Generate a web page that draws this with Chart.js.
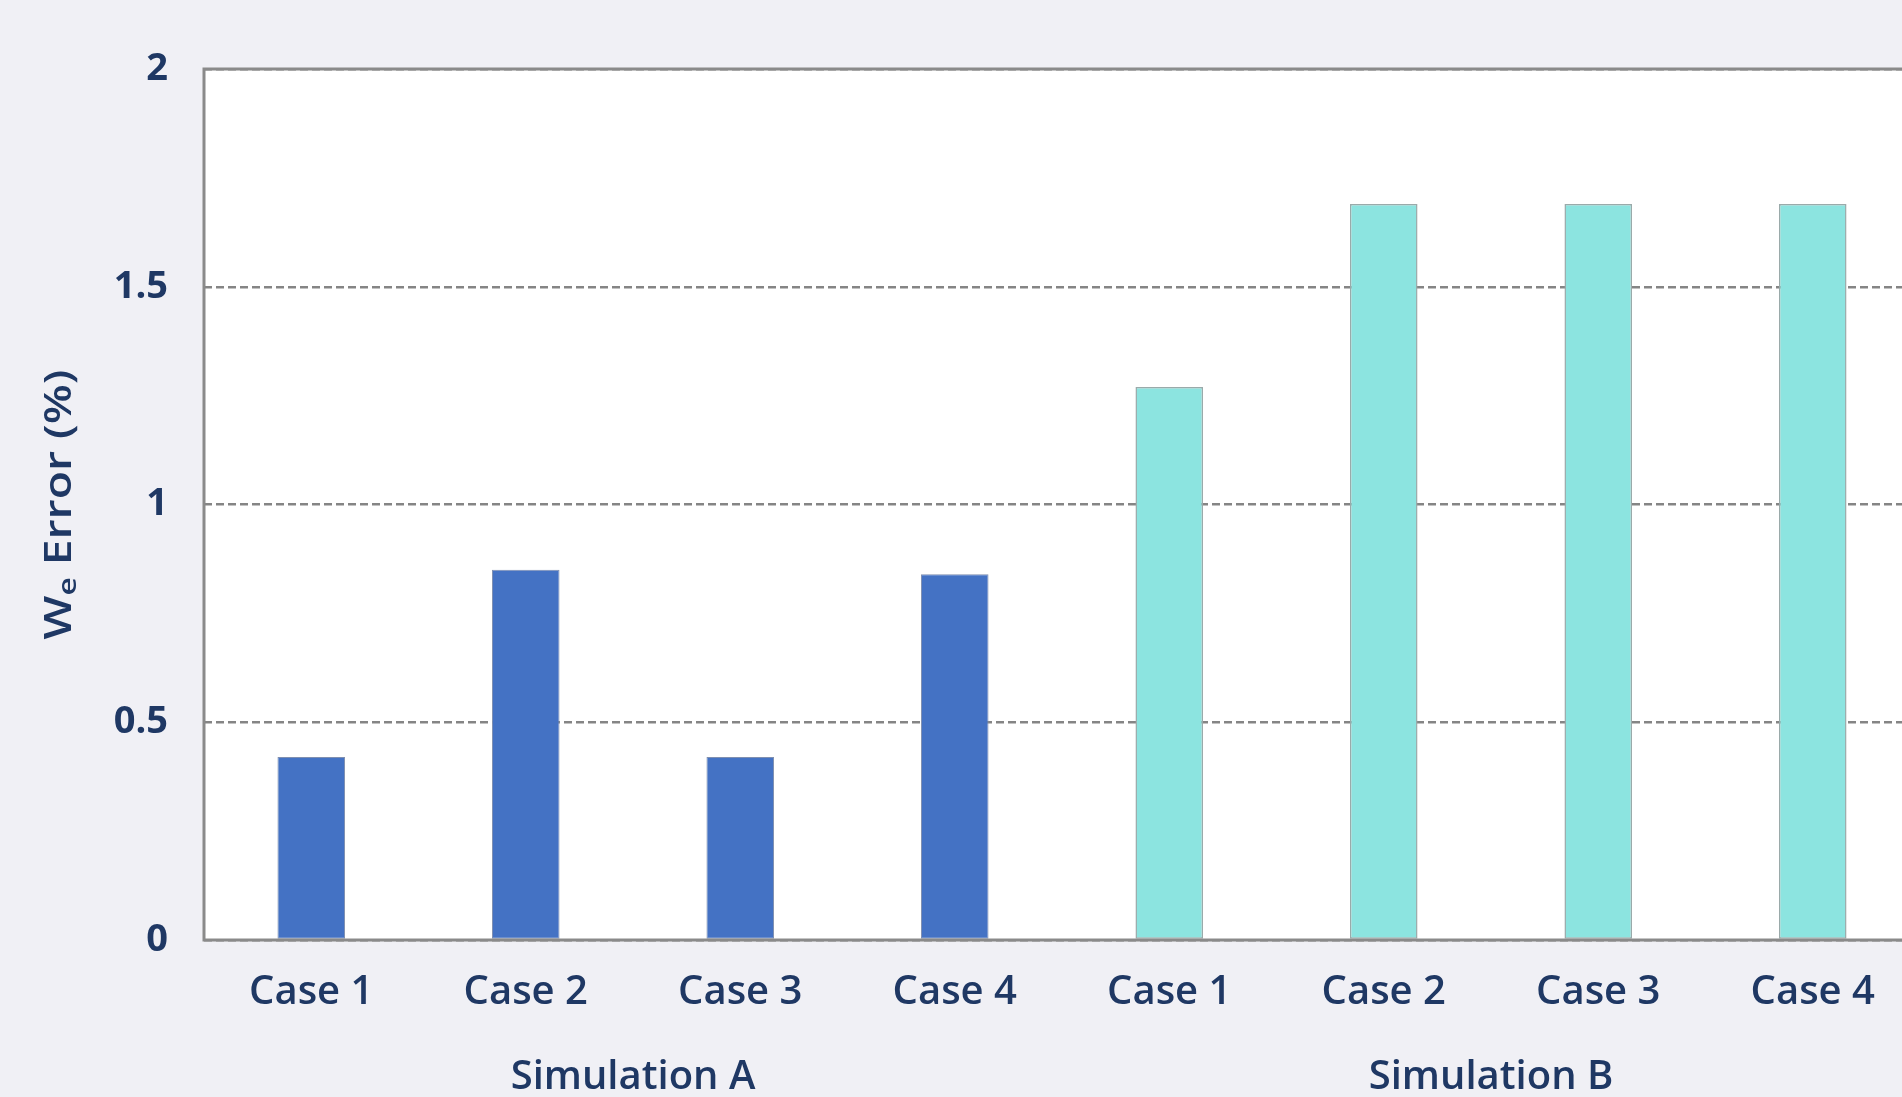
<!DOCTYPE html>
<html>
<head>
<meta charset="utf-8">
<title>We Error by case</title>
<script src="https://cdn.jsdelivr.net/npm/chart.js@4.4.1/dist/chart.umd.min.js"></script>
<style>
  html, body { margin: 0; padding: 0; background: #F0F0F5; overflow: hidden; }
  #wrap { width: 1925px; height: 1097px; position: relative; }
</style>
</head>
<body>
<div id="wrap"><canvas id="errChart"></canvas></div>
<script>
// ── Data ──
const caseLabels  = ['Case 1', 'Case 2', 'Case 3', 'Case 4', 'Case 1', 'Case 2', 'Case 3', 'Case 4'];
const groupLabels = ['Simulation A', 'Simulation B'];
const simAValues  = [0.42, 0.85, 0.42, 0.84];
const simBValues  = [1.27, 1.69, 1.69, 1.69];
const yTicks      = [0, 0.5, 1, 1.5, 2];

const NAVY  = '#1F3864';
const FRAME = '#8A8A8A';
const FONT  = "'Open Sans', 'Noto Sans', sans-serif";

// pad each series so it only fills its own group of cases
const pad = new Array(4).fill(null);
const simAData = simAValues.concat(pad);
const simBData = pad.concat(simBValues);

// white plot area + grey frame round it
const plotFrame = {
  id: 'plotFrame',
  beforeDraw(chart) {
    const a = chart.chartArea, c = chart.ctx;
    c.save();
    c.fillStyle = '#FFFFFF';
    c.fillRect(a.left, a.top, a.right - a.left, a.bottom - a.top);
    c.restore();
  },
  afterDatasetsDraw(chart) {
    const a = chart.chartArea, c = chart.ctx;
    c.save();
    c.strokeStyle = FRAME;
    c.lineWidth = 3;
    c.strokeRect(a.left, a.top, a.right - a.left, a.bottom - a.top);
    c.restore();
  }
};

// y title with subscript e: "We Error (%)"
const yTitle = {
  id: 'yTitle',
  afterDraw(chart) {
    const a = chart.chartArea, c = chart.ctx;
    const big = "600 38px " + FONT, small = "600 26px " + FONT;
    c.save();
    c.font = big;
    const wW = c.measureText('W').width;
    const wRest = c.measureText(' Error (%)').width;
    c.font = small;
    const wE = c.measureText('e').width;
    const total = wW + wE + wRest;
    c.translate(60, (a.top + a.bottom) / 2);
    c.rotate(-Math.PI / 2);
    c.scale(1.22, 1);   // reference text is drawn a bit stretched
    c.fillStyle = NAVY;
    c.textBaseline = 'middle';
    c.textAlign = 'left';
    let x = -total / 2;
    c.font = big;   c.fillText('W', x, 0);          x += wW;
    c.font = small; c.fillText('e', x, 9);          x += wE;
    c.font = big;   c.fillText(' Error (%)', x, 0);
    c.restore();
  }
};

new Chart(document.getElementById('errChart'), {
  type: 'bar',
  data: {
    labels: caseLabels,
    datasets: [
      {
        label: groupLabels[0],
        data: simAData,
        backgroundColor: '#4472C4',
        borderColor: '#7F8FB0',
        borderWidth: 1,
        borderSkipped: false,
        categoryPercentage: 1,
        barPercentage: 0.315
      },
      {
        label: groupLabels[1],
        data: simBData,
        backgroundColor: '#8CE4E0',
        borderColor: '#9AAAAA',
        borderWidth: 1.5,
        borderSkipped: false,
        categoryPercentage: 1,
        barPercentage: 0.315
      }
    ]
  },
  options: {
    responsive: true,
    maintainAspectRatio: false,
    animation: false,
    layout: { padding: { top: 69, right: 5, left: 0, bottom: 0 } },
    scales: {
      x: {
        stacked: true,
        offset: true,
        afterFit(scale) { scale.height = 106; },
        grid: { display: false, drawTicks: false },
        border: { display: false },
        ticks: {
          color: NAVY,
          padding: 29,
          font: { family: FONT, size: 40, weight: '600' }
        }
      },
      x2: {
        type: 'category',
        position: 'bottom',
        labels: groupLabels,
        offset: true,
        afterFit(scale) { scale.height = 51; },
        grid: { display: false, drawTicks: false },
        border: { display: false },
        ticks: {
          color: NAVY,
          padding: 8,
          font: { family: FONT, size: 40, weight: '600' }
        }
      },
      y: {
        min: 0, max: 2,
        afterFit(scale) { scale.width = 204; },
        afterBuildTicks(scale) { scale.ticks = yTicks.map(v => ({ value: v })); },
        grid: {
          color: '#858585',
          lineWidth: 2.5,
          drawTicks: false
        },
        border: { display: false, dash: [8, 4] },
        ticks: {
          color: NAVY,
          padding: 36,
          font: { family: FONT, size: 38, weight: '700' },
          callback: v => String(v)
        }
      }
    },
    plugins: {
      legend: { display: false },
      tooltip: { enabled: false }
    }
  },
  plugins: [plotFrame, yTitle]
});
</script>
</body>
</html>
